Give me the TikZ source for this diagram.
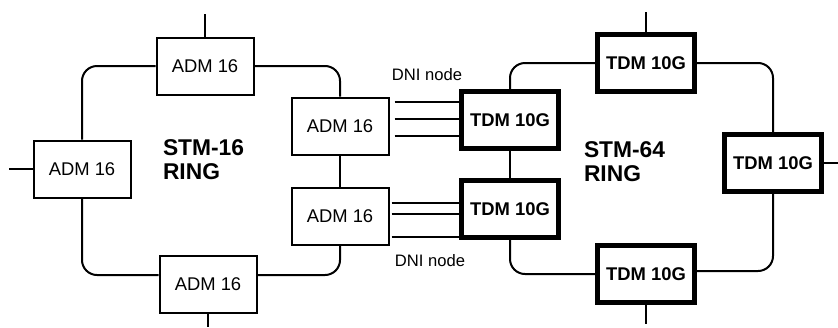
\documentclass[tikz,border=0pt]{standalone}
\usepackage{fontspec}
\setmainfont{Liberation Sans}
\usetikzlibrary{positioning}

\begin{document}
\begin{tikzpicture}[
  x=0.5pt, y=-0.5pt,
  font=\fontsize{9.2}{11}\selectfont,
  line width=1pt,
  box/.style={rectangle, draw=black, fill=white, inner sep=0pt},
  adm/.style={box, line width=1pt, minimum width=48.5pt, minimum height=28.5pt},
  tdm/.style={box, line width=2.2pt, minimum width=48.5pt, minimum height=28.5pt,
              font=\fontsize{9.2}{11}\selectfont\bfseries},
  ring/.style={rounded corners=7.5pt},
  dni/.style={line width=0.7pt},
  lbl/.style={font=\fontsize{8.3}{10}\selectfont, inner sep=1pt},
  title/.style={font=\fontsize{11.4}{12}\selectfont\bfseries, align=left,
                anchor=north west, inner sep=0pt},
]
\useasboundingbox (0,0) rectangle (838,327);

% STM-16 ring
\node[adm] (admT) at (205,66)  {ADM 16};
\node[adm] (admL) at (82,169)  {ADM 16};
\node[adm] (admB) at (208,284) {ADM 16};
\node[adm] (admU) at (340,126) {ADM 16};
\node[adm] (admD) at (340,216) {ADM 16};
\node[title] (ring16) at (162,139) {STM-16\\RING};

% STM-64 ring
\node[tdm] (tdmT) at (646,63)  {TDM 10G};
\node[tdm] (tdmU) at (510,120) {TDM 10G};
\node[tdm] (tdmD) at (510,209) {TDM 10G};
\node[tdm] (tdmR) at (773,163) {TDM 10G};
\node[tdm] (tdmB) at (646,274) {TDM 10G};
\node[title] (ring64) at (583,141) {STM-64\\RING};

\node[lbl] (dniU) at (427,75)  {DNI node};
\node[lbl] (dniD) at (430,261) {DNI node};

% add/drop spurs
\coordinate (spT)  at (205,14);
\coordinate (spL)  at (9,169);
\coordinate (spB)  at (208,327);
\coordinate (spT2) at (646,12);
\coordinate (spR2) at (838,163);
\coordinate (spB2) at (646,324);

\draw (admT.north) -- (spT);
\draw (admL.west)  -- (spL);
\draw (admB.south) -- (spB);
\draw (tdmT.north) -- (spT2);
\draw (tdmR.east)  -- (spR2);
\draw (tdmB.south) -- (spB2);

% rings
\draw[ring] (admT.west) -| (admL.north);
\draw[ring] (admL.south) |- ([yshift=4.5pt]admB.west);
\draw[ring] ([yshift=4.5pt]admB.east) -| (admD.south);
\draw[ring] (admT.east) -| (admU.north);
\draw (admU.south) -- (admD.north);

\draw[ring] (tdmT.west) -| (tdmU.north);
\draw[ring] (tdmT.east) -| (tdmR.north);
\draw[ring] (tdmR.south) |- ([yshift=1.5pt]tdmB.east);
\draw[ring] (tdmB.west) -| (tdmD.south);
\draw (tdmU.south) -- (tdmD.north);

% DNI interconnects
\foreach \dy in {-24,-7,10}
  \draw[dni] (admU.east) ++(5,\dy) coordinate (p) -- (p -| tdmU.west);
\foreach \dy in {-13,-2,21}
  \draw[dni] (admD.east) ++(2,\dy) coordinate (p) -- (p -| tdmD.west);

\end{tikzpicture}
\end{document}
